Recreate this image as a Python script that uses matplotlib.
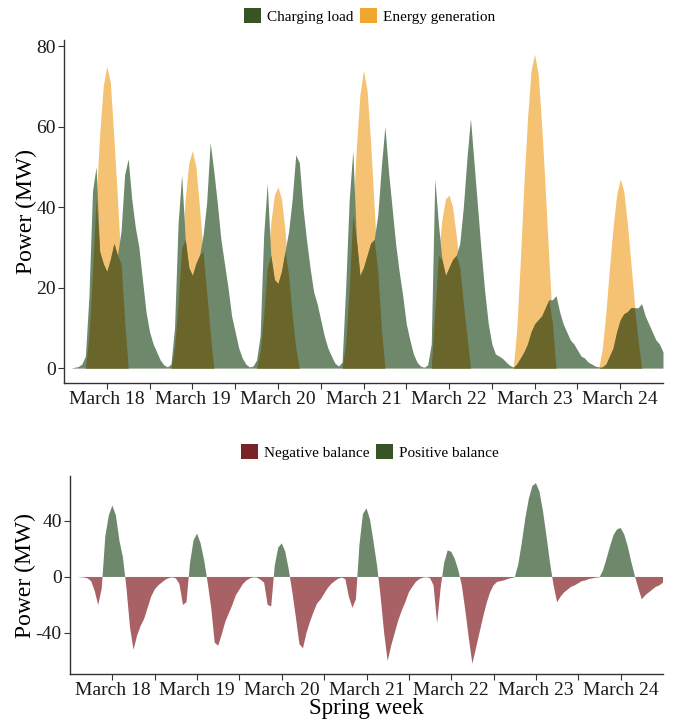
import numpy as np
import matplotlib
matplotlib.use("Agg")
import matplotlib.pyplot as plt
from matplotlib.patches import Patch

plt.rcParams['font.family'] = ['Liberation Serif', 'DejaVu Serif']
plt.rcParams['axes.unicode_minus'] = False

# ---- data (hourly, hours counted from March 18 00:00) ----
hours = np.arange(2, 169)

load_mw = np.array(
    [0, 0.2, 0.4, 1, 3, 18, 44, 50, 29, 26, 24, 27, 31, 28, 34, 48, 52, 42, 35, 30, 22, 14] +           # Mar 18 (02-23h)
    [9, 6, 4, 2, 0.8, 0.3, 1, 10, 36, 48, 32, 25, 23, 26, 28, 33, 41, 56, 49, 41, 32, 26, 20, 13] +     # Mar 19
    [9, 5, 2.5, 1, 0.3, 0.5, 2, 8, 33, 46, 28, 22, 21, 24, 29, 34, 42, 53, 51, 40, 32, 25, 19, 16] +    # Mar 20
    [12, 8, 5, 3, 1.2, 0.5, 1.5, 20, 42, 54, 32, 23, 25, 28, 31, 32, 38, 50, 60, 49, 40, 31, 24, 18] +  # Mar 21
    [11, 7, 3.5, 1.5, 0.5, 0.2, 0.8, 6, 47, 36, 27, 23, 25, 27, 28, 31, 40, 52, 62, 51, 40, 29, 19, 11] +  # Mar 22
    [6, 3.5, 3, 2.4, 1.5, 0.7, 0.3, 1, 2.5, 4, 6, 9, 11, 12, 13, 15, 17, 17, 18, 14, 11, 9, 7, 6] +     # Mar 23
    [4.5, 3, 2.5, 1.5, 1, 0.5, 0.3, 0.3, 1, 3, 5, 9, 12, 13.5, 14, 15, 15, 15, 16, 13, 11, 9, 7, 6, 4]  # Mar 24 (+24h)
)

generation_mw = np.array(
    [0, 0, 0, 0, 0, 8, 24, 42, 58, 70, 75, 71, 57, 42, 26, 12, 0, 0, 0, 0, 0, 0] +
    [0, 0, 0, 0, 0, 0, 0, 5, 16, 30, 42, 51, 54, 50, 40, 29, 19, 9, 0, 0, 0, 0, 0, 0] +
    [0, 0, 0, 0, 0, 0, 0, 4, 13, 25, 36, 43, 45, 42, 34, 23, 13, 5, 0, 0, 0, 0, 0, 0] +
    [0, 0, 0, 0, 0, 0, 0, 6, 20, 38, 55, 68, 74, 69, 56, 40, 24, 10, 0, 0, 0, 0, 0, 0] +
    [0, 0, 0, 0, 0, 0, 0, 0, 14, 28, 37, 42, 43, 40, 33, 25, 16, 8, 0, 0, 0, 0, 0, 0] +
    [0, 0, 0, 0, 0, 0, 0, 10, 27, 46, 62, 74, 78, 73, 60, 44, 27, 11, 0, 0, 0, 0, 0, 0] +
    [0, 0, 0, 0, 0, 0, 0, 5, 14, 25, 35, 43, 47, 44, 36, 26, 16, 7, 0, 0, 0, 0, 0, 0, 0]
)

balance_mw = generation_mw - load_mw

day_labels = ["March 18", "March 19", "March 20", "March 21",
              "March 22", "March 23", "March 24"]

# ---- colours ----
load_fill = '#6e886c'
gen_fill = '#f5c273'
overlap_fill = '#6a652b'
neg_fill = '#a86266'
green_key = '#375426'
orange_key = '#efa72f'
red_key = '#7a2326'
axis_col = '#333333'

fig = plt.figure(figsize=(6.76, 7.2), dpi=100)
ax1 = fig.add_axes([64/676, 1-383/720, (663-64)/676, (383-40)/720])
ax2 = fig.add_axes([70/676, 1-674/720, (663-70)/676, (674-476)/720])

# top panel
ax1.fill_between(hours, 0, generation_mw, color=gen_fill, linewidth=0)
ax1.fill_between(hours, 0, load_mw, color=load_fill, linewidth=0)
ax1.fill_between(hours, 0, np.minimum(generation_mw, load_mw), color=overlap_fill, linewidth=0)
ax1.set_ylim(-3.7, 81.5)
ax1.set_yticks([0, 20, 40, 60, 80])

# bottom panel
ax2.fill_between(hours, 0, balance_mw, where=balance_mw >= 0, interpolate=True,
                 color=load_fill, linewidth=0)
ax2.fill_between(hours, 0, balance_mw, where=balance_mw <= 0, interpolate=True,
                 color=neg_fill, linewidth=0)
ax2.set_ylim(-69.3, 72.1)
ax2.set_yticks([-40, 0, 40])

day_centres = np.arange(len(day_labels)) * 24 + 12
day_bounds = np.arange(1, len(day_labels)) * 24
for ax in (ax1, ax2):
    ax.set_xlim(0, 168)
    ax.set_xticks(day_centres)
    ax.set_xticklabels(day_labels)
    ax.set_xticks(day_bounds, minor=True)
    for s in ('top', 'right'):
        ax.spines[s].set_visible(False)
    for s in ('left', 'bottom'):
        ax.spines[s].set_color(axis_col)
        ax.spines[s].set_linewidth(1.0)
    ax.tick_params(which='both', direction='out', length=4, width=0.8,
                   color=axis_col, labelsize=14, labelcolor='#1a1a1a', pad=2)
    ax.set_ylabel("Power (MW)", fontsize=17)

ax1.yaxis.set_label_coords(-0.045, 0.5)
ax2.yaxis.set_label_coords(-0.057, 0.5)
ax2.set_xlabel("Spring week", fontsize=16.5, labelpad=-1)

# legends
h1 = [Patch(facecolor=green_key, edgecolor='none', label='Charging load'),
      Patch(facecolor=orange_key, edgecolor='none', label='Energy generation')]
fig.legend(handles=h1, loc='center', bbox_to_anchor=(0.547, 0.978), ncol=2,
           frameon=False, fontsize=11, handlelength=1.1, handleheight=1.1,
           handletextpad=0.4, columnspacing=0.4)
h2 = [Patch(facecolor=red_key, edgecolor='none', label='Negative balance'),
      Patch(facecolor=green_key, edgecolor='none', label='Positive balance')]
fig.legend(handles=h2, loc='center', bbox_to_anchor=(0.547, 0.372), ncol=2,
           frameon=False, fontsize=11, handlelength=1.1, handleheight=1.1,
           handletextpad=0.4, columnspacing=0.4)

fig.savefig("out.png", dpi=100, facecolor='white')
